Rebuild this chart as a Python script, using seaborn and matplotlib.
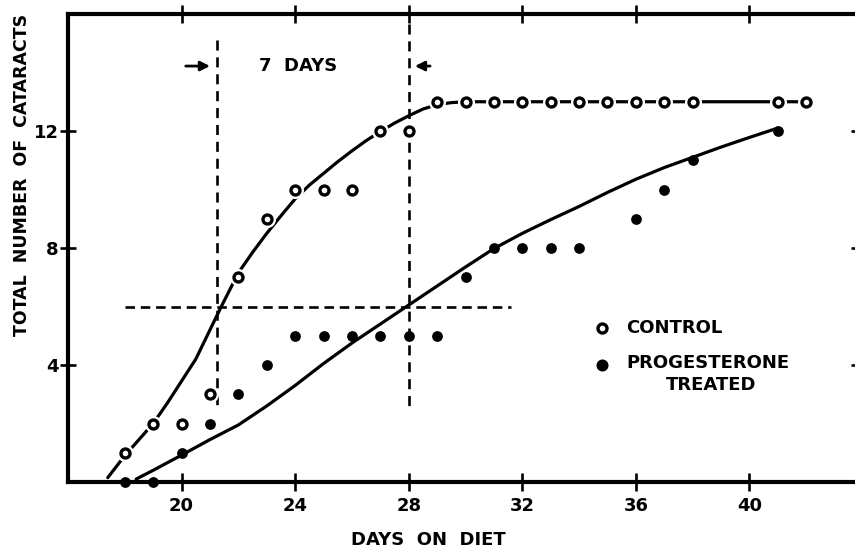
import matplotlib
matplotlib.use("Agg")
import matplotlib.pyplot as plt
import seaborn as sns
import pandas as pd

# ---- data ----
ctrl_days = [18, 19, 20, 21, 22, 23, 24, 25, 26, 27, 28, 29, 30, 31, 32, 33, 34, 35, 36, 37, 38, 41, 42]
ctrl_vals = [1, 2, 2, 3, 7, 9, 10, 10, 10, 12, 12, 13, 13, 13, 13, 13, 13, 13, 13, 13, 13, 13, 13]
prog_days = [18, 19, 20, 21, 22, 23, 24, 25, 26, 27, 28, 29, 30, 31, 32, 33, 34, 36, 37, 38, 41]
prog_vals = [0, 0, 1, 2, 3, 4, 5, 5, 5, 5, 5, 5, 7, 8, 8, 8, 8, 9, 10, 11, 12]

# hand-drawn fitted curves
ctrl_curve_x = [17.4, 18.0, 18.5, 19.0, 19.5, 20.0, 20.5, 21.0, 21.4, 22.0, 22.5, 23.0, 23.5,
                24.0, 24.5, 25.0, 25.5, 26.0, 26.5, 27.0, 27.5, 28.0, 28.5, 29.0, 29.5, 30.0, 42.0]
ctrl_curve_y = [0.15, 0.9, 1.45, 2.0, 2.7, 3.45, 4.2, 5.2, 6.0, 7.15, 7.85, 8.5, 9.1,
                9.68, 10.15, 10.55, 10.95, 11.32, 11.67, 11.98, 12.27, 12.52, 12.75, 12.9, 12.97, 13.0, 13.0]
prog_curve_x = [18.4, 19, 20, 21, 22, 23, 24, 25, 26, 27, 28, 29, 30, 31, 32, 33, 34, 35, 36, 37,
                38, 39, 40, 41]
prog_curve_y = [0.1, 0.4, 0.92, 1.45, 1.95, 2.6, 3.3, 4.05, 4.75, 5.4, 6.05, 6.7, 7.35, 7.98, 8.5,
                8.97, 9.42, 9.9, 10.35, 10.75, 11.1, 11.45, 11.78, 12.1]

x_ticks = [20, 24, 28, 32, 36, 40]
y_ticks = [4, 8, 12]

# reference guides
half_level = 6
ctrl_half_day = 21.25
prog_half_day = 28.0

sns.set_theme(style="white")
plt.rcParams['font.family'] = ['DejaVu Sans']
plt.rcParams['font.weight'] = 'bold'
plt.rcParams['text.color'] = 'black'
plt.rcParams['xtick.color'] = 'black'
plt.rcParams['ytick.color'] = 'black'
plt.rcParams['axes.labelcolor'] = 'black'

fig = plt.figure(figsize=(8.55, 5.5), dpi=100)
ax = fig.add_axes([68 / 855, 68 / 550, (863 - 68) / 855, 468 / 550])

ctrl_df = pd.DataFrame({"day": ctrl_days, "n": ctrl_vals})
prog_df = pd.DataFrame({"day": prog_days, "n": prog_vals})
ccurve = pd.DataFrame({"x": ctrl_curve_x, "y": ctrl_curve_y})
pcurve = pd.DataFrame({"x": prog_curve_x, "y": prog_curve_y})

sns.lineplot(data=ccurve, x="x", y="y", sort=False, estimator=None, color="black", lw=2.3, ax=ax, zorder=2)
sns.lineplot(data=pcurve, x="x", y="y", sort=False, estimator=None, color="black", lw=2.3, ax=ax, zorder=2)

# dashed guide lines
ax.plot([18.0, 31.6], [half_level, half_level], color="black", lw=1.9, dashes=(3.6, 2.2), zorder=1)
ax.plot([ctrl_half_day, ctrl_half_day], [15.1, 2.6], color="black", lw=1.9, dashes=(3.8, 2.6), zorder=1)
ax.plot([prog_half_day, prog_half_day], [15.65, 2.4], color="black", lw=1.9, dashes=(3.8, 2.6), zorder=1)

# points
sns.scatterplot(data=ctrl_df, x="day", y="n", marker="o", s=150, color="white", linewidth=0,
                ax=ax, zorder=3, clip_on=False)
sns.scatterplot(data=ctrl_df, x="day", y="n", marker="o", s=42, facecolor="white", edgecolor="black",
                linewidth=2.4, ax=ax, zorder=4, clip_on=False)
sns.scatterplot(data=prog_df, x="day", y="n", marker="o", s=60, color="black", linewidth=0,
                ax=ax, zorder=4, clip_on=False)

# 7 days annotation
ax.annotate("", xy=(ctrl_half_day - 0.15, 14.22), xytext=(20.05, 14.22),
            arrowprops=dict(arrowstyle="-|>", color="black", lw=2.0, mutation_scale=14))
ax.annotate("", xy=(prog_half_day + 0.12, 14.22), xytext=(28.85, 14.22),
            arrowprops=dict(arrowstyle="-|>", color="black", lw=2.0, mutation_scale=14))
ax.text(24.12, 14.22, "7  DAYS", ha="center", va="center", fontsize=13, fontweight="bold", color="black")

# legend drawn as in the figure
ax.scatter([34.8], [5.26], s=42, facecolor="white", edgecolor="black", linewidth=2.4, zorder=4)
ax.scatter([34.82], [4.0], s=75, color="black", linewidth=0, zorder=4)
ax.text(35.67, 5.26, "CONTROL", ha="left", va="center", fontsize=13, fontweight="bold", color="black")
ax.text(35.67, 4.07, "PROGESTERONE", ha="left", va="center", fontsize=13, fontweight="bold", color="black")
ax.text(38.66, 3.32, "TREATED", ha="center", va="center", fontsize=13, fontweight="bold", color="black")

ax.set_xlim(16, 44)
ax.set_ylim(0, 16)
ax.set_xticks(x_ticks)
ax.set_yticks(y_ticks)
ax.set_xticklabels([str(t) for t in x_ticks], fontsize=13, fontweight="bold", color="black")
ax.set_yticklabels([str(t) for t in y_ticks], fontsize=13, fontweight="bold", color="black")
ax.set_xlabel("")
ax.set_ylabel("")

for side in ["left", "bottom", "top", "right"]:
    ax.spines[side].set_visible(True)
    ax.spines[side].set_color("black")
    ax.spines[side].set_linewidth(3.0)

ax.tick_params(axis="x", which="both", direction="inout", length=13, width=1.9, colors="black",
               top=True, bottom=True, pad=4)
ax.tick_params(axis="y", which="both", direction="inout", length=11, width=1.9, colors="black",
               left=True, right=False, pad=1)
# inward ticks on the (off-canvas) right spine
ax2 = ax.secondary_yaxis("right")
ax2.set_yticks(y_ticks)
ax2.set_yticklabels([])
ax2.tick_params(direction="in", length=9, width=1.9, colors="black")
ax2.spines["right"].set_linewidth(3.0)

ax.grid(False)

fig.text(428 / 855, 1 - 540 / 550, "DAYS  ON  DIET", ha="center", va="center", fontsize=13,
         fontweight="bold", color="black")
fig.text(22 / 855, 1 - 175 / 550, "TOTAL  NUMBER  OF  CATARACTS", ha="center", va="center",
         rotation=90, fontsize=12.5, fontweight="bold", color="black")

fig.savefig("out.png", dpi=100)
